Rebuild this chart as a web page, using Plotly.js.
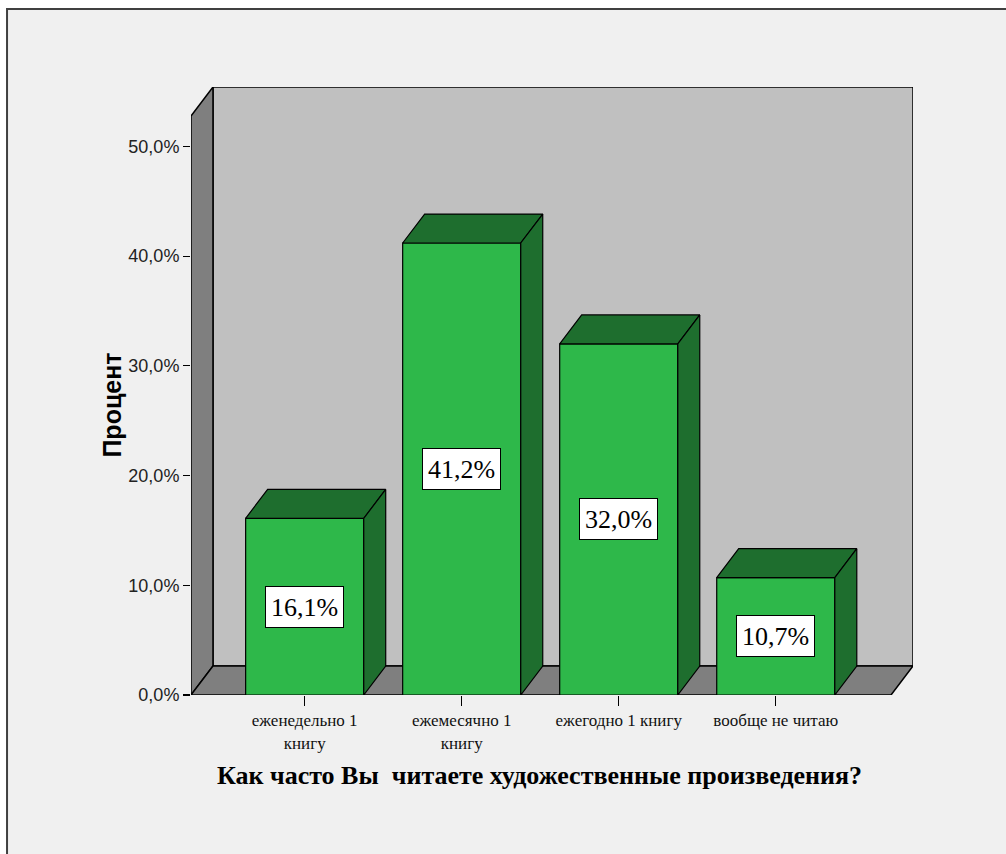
<!DOCTYPE html>
<html>
<head>
<meta charset="utf-8">
<script src="https://cdn.plot.ly/plotly-3.0.1.min.js"></script>
<style>html,body{margin:0;padding:0;background:#fff;}#chart{width:1006px;height:854px;}</style>
</head>
<body>
<div id="chart"></div>
<script>
// ---- data ----
const categories = ["еженедельно 1<br>книгу", "ежемесячно 1<br>книгу", "ежегодно 1 книгу", "вообще не читаю"];
const percents = [16.1, 41.2, 32.0, 10.7];
const valueLabels = ["16,1%", "41,2%", "32,0%", "10,7%"];
const yTickVals = [0, 10, 20, 30, 40, 50];
const yTickText = ["0,0%", "10,0%", "20,0%", "30,0%", "40,0%", "50,0%"];
const xTitle = "Как часто Вы\u00a0 читаете художественные произведения?";
const yTitle = "Процент";

// ---- 3D geometry (style) ----
const XMIN = -0.724, XFRONTMAX = 3.734;
const DX = 0.14, DY = 2.64;
const YTOP = 55.42;
const HALF = 0.376;
const FRONT = "#2EB84A", DARK = "#1E6E2E", WALL = "#C0C0C0", SIDE = "#7F7F7F";

const xs = categories.map((_, i) => i);
const traces = [];
traces.push({
  type: "bar", x: xs, y: percents, width: HALF * 2,
  marker: {color: FRONT, line: {color: "#000", width: 1.2}},
  hoverinfo: "skip", showlegend: false
});
percents.forEach((v, i) => {
  const l = i - HALF, r = i + HALF;
  traces.push({
    type: "scatter", mode: "lines", fill: "toself", fillcolor: DARK,
    x: [l, l + DX, r + DX, r, l], y: [v, v + DY, v + DY, v, v],
    line: {color: "#000", width: 1.2}, hoverinfo: "skip", showlegend: false
  });
  traces.push({
    type: "scatter", mode: "lines", fill: "toself", fillcolor: DARK,
    x: [r, r, r + DX, r + DX, r], y: [0, v, v + DY, DY, 0],
    line: {color: "#000", width: 1.2}, hoverinfo: "skip", showlegend: false
  });
});

const shapes = [
  // outer frame
  {type: "rect", xref: "paper", yref: "paper", x0: -0.2548, x1: 1.2, y0: -0.4, y1: 1.1283,
   fillcolor: "#F0F0F0", line: {color: "#404040", width: 2}, layer: "below"},
  // back wall
  {type: "rect", xref: "x", yref: "y", x0: XMIN + DX, x1: XFRONTMAX + DX, y0: DY, y1: YTOP,
   fillcolor: WALL, line: {color: "#000", width: 1.5}, layer: "below"},
  // left side wall
  {type: "path", xref: "x", yref: "y",
   path: `M${XMIN},0 L${XMIN + DX},${DY} L${XMIN + DX},${YTOP} L${XMIN},${YTOP - DY} Z`,
   fillcolor: SIDE, line: {color: "#000", width: 1.5}, layer: "below"},
  // floor
  {type: "path", xref: "x", yref: "y",
   path: `M${XMIN},0 L${XFRONTMAX},0 L${XFRONTMAX + DX},${DY} L${XMIN + DX},${DY} Z`,
   fillcolor: SIDE, line: {color: "#000", width: 1.5}, layer: "below"}
];

const annotations = percents.map((v, i) => ({
  x: i, y: v / 2, xref: "x", yref: "y", text: valueLabels[i], showarrow: false,
  font: {family: "Liberation Serif, Times New Roman, serif", size: 26, color: "#000"},
  bgcolor: "#FFFFFF", bordercolor: "#000", borderwidth: 1, width: 75, height: 38
}));
annotations.push({
  xref: "paper", yref: "paper", x: -0.1094, y: 0.476, text: "<b>" + yTitle + "</b>",
  xanchor: "center", yanchor: "middle",
  textangle: -90, showarrow: false,
  font: {family: "Liberation Sans, Arial, sans-serif", size: 25, color: "#000"}
});
annotations.push({
  xref: "paper", yref: "paper", x: 0.483, y: -0.133, text: "<b>" + xTitle + "</b>",
  xanchor: "center", yanchor: "middle",
  showarrow: false,
  font: {family: "Liberation Serif, Times New Roman, serif", size: 26, color: "#000"}
});

const layout = {
  width: 1006, height: 854,
  margin: {l: 191, r: 93, t: 87, b: 159, autoexpand: false},
  paper_bgcolor: "#FFFFFF", plot_bgcolor: "rgba(0,0,0,0)",
  showlegend: false,
  xaxis: {
    range: [XMIN, XFRONTMAX + DX], tickmode: "array", tickvals: xs, ticktext: categories,
    showgrid: false, zeroline: false, showline: false,
    ticks: "outside", ticklen: 10, tickcolor: "#000", tickwidth: 1.2,
    tickfont: {family: "Liberation Serif, Times New Roman, serif", size: 17, color: "#111"},
    fixedrange: true
  },
  yaxis: {
    range: [0, YTOP], tickmode: "array", tickvals: yTickVals, ticktext: yTickText,
    showgrid: false, zeroline: false, showline: false,
    ticks: "outside", ticklen: 7, tickcolor: "#000", tickwidth: 1.2,
    tickfont: {family: "Liberation Sans, Arial, sans-serif", size: 18, color: "#222"},
    fixedrange: true
  },
  shapes: shapes,
  annotations: annotations
};

Plotly.newPlot("chart", traces, layout, {displayModeBar: false, staticPlot: true});
</script>
</body>
</html>
